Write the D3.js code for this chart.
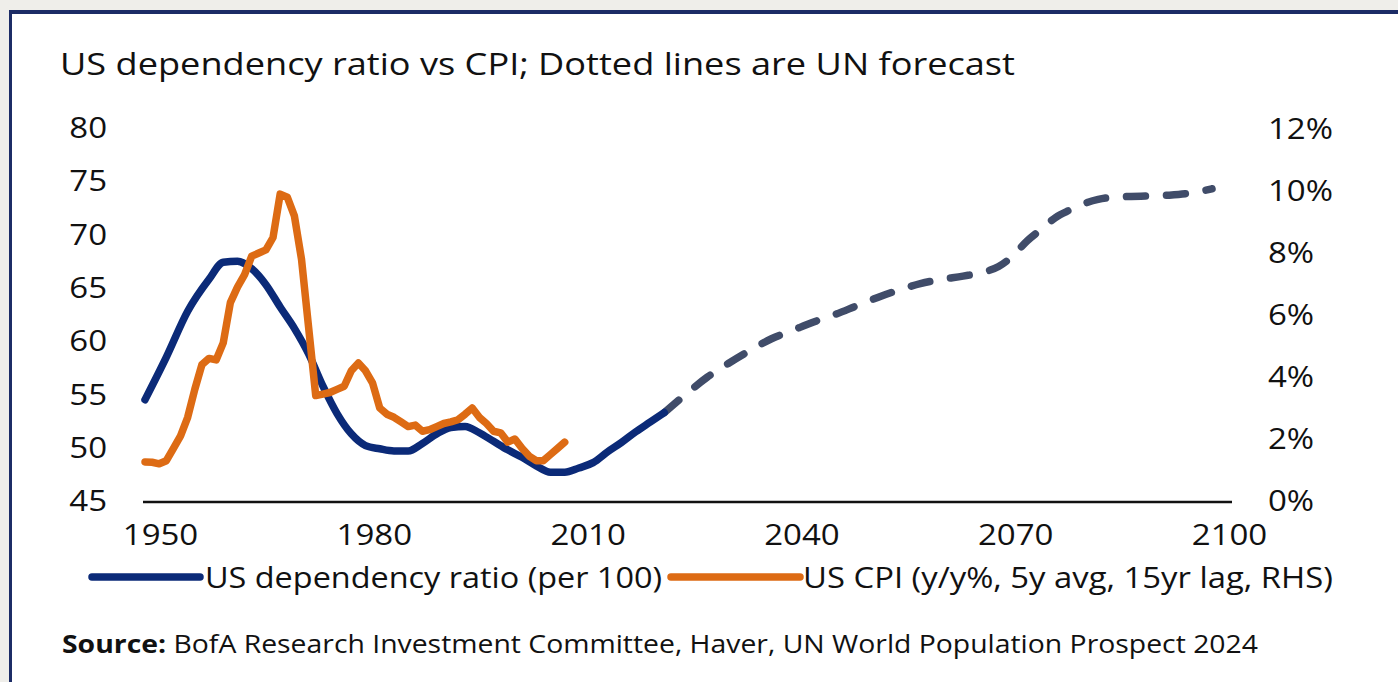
<!DOCTYPE html>
<html><head><meta charset="utf-8">
<script src="https://cdn.jsdelivr.net/npm/d3@7"></script>
<style>
html,body{margin:0;padding:0;background:#efeeea;}
svg{display:block;}
</style></head>
<body>
<svg id="c" width="1398" height="682"></svg>
<script>
// ---- data ----
const depYears = [1950,1953,1956,1959,1961,1963,1965,1967,1969,1971,1973,1975,1977,1979,1981,1983,1985,1987,1989,1991,1993,1995,1997,1999,2001,2003,2005,2007,2009,2011,2013,2015,2017,2019,2021,2023];
const depValues = [54.5,58.5,62.8,65.8,67.4,67.5,66.8,65.3,63.2,61.2,58.8,55.8,53.2,51.3,50.2,49.9,49.7,49.7,50.4,51.3,51.9,52.0,51.4,50.6,49.8,49.1,48.3,47.7,47.7,48.1,48.6,49.6,50.5,51.5,52.4,53.3];
const fcYears = [2023,2026,2029,2032,2035,2038,2041,2044,2047,2050,2053,2056,2059,2062,2065,2068,2070,2072,2074,2076,2078,2080,2082,2084,2086,2090,2094,2097,2100];
const fcValues = [53.3,55.0,56.6,57.9,59.1,60.2,61.0,61.8,62.5,63.3,64.1,64.8,65.4,65.8,66.1,66.5,67.0,68.0,69.4,70.5,71.6,72.3,72.9,73.3,73.5,73.6,73.7,73.9,74.3];
const cpiYears = [1950,1951,1952,1953,1954,1955,1956,1957,1958,1959,1960,1961,1962,1963,1964,1965,1966,1967,1968,1969,1970,1971,1972,1973,1974,1975,1976,1977,1978,1979,1980,1981,1982,1983,1984,1985,1986,1987,1988,1989,1990,1991,1992,1993,1994,1995,1996,1997,1998,1999,2000,2001,2002,2003,2004,2005,2006,2007,2008,2009];
const cpiValues = [1.26,1.25,1.2,1.3,1.7,2.1,2.7,3.6,4.4,4.6,4.55,5.1,6.4,6.9,7.3,7.9,8.0,8.1,8.5,9.9,9.8,9.2,7.8,5.6,3.4,3.45,3.5,3.6,3.7,4.2,4.45,4.2,3.8,3.0,2.8,2.7,2.55,2.4,2.45,2.25,2.3,2.4,2.5,2.55,2.62,2.8,3.0,2.7,2.5,2.25,2.2,1.9,2.0,1.7,1.45,1.3,1.3,1.5,1.7,1.9];
const xTicks = [1950,1980,2010,2040,2070,2100];
const leftTicks = [45,50,55,60,65,70,75,80];
const rightTicks = [0,2,4,6,8,10,12];
const title = "US dependency ratio vs CPI; Dotted lines are UN forecast";
const legendLabels = ["US dependency ratio (per 100)", "US CPI (y/y%, 5y avg, 15yr lag, RHS)"];
const sourceBold = "Source:";
const sourceText = " BofA Research Investment Committee, Haver, UN World Population Prospect 2024";

// ---- drawing ----
const FONT = "'Open Sans', 'Noto Sans', sans-serif";
const BLUE = "#0b2a78", ORANGE = "#dd6b14", DASH = "#404c69";
const svg = d3.select("#c");

// panel
svg.append("rect").attr("x",10).attr("y",12).attr("width",1388).attr("height",670).attr("fill","#ffffff");
svg.append("rect").attr("x",10).attr("y",10).attr("width",1388).attr("height",4).attr("fill","#1c2c66");
svg.append("rect").attr("x",9).attr("y",10).attr("width",3).attr("height",672).attr("fill","#1c2c66");

const x = d3.scaleLinear().domain([1950,2100]).range([145,1212]);
const xLab = d3.scaleLinear().domain([1950,2100]).range([160,1229]);
const yL = d3.scaleLinear().domain([45,80]).range([501,128]);
const yR = d3.scaleLinear().domain([0,12]).range([501,129]);

svg.append("text").attr("x",60).attr("y",75).attr("font-family",FONT).attr("font-size",31)
  .attr("fill","#111").attr("textLength",955).attr("lengthAdjust","spacingAndGlyphs").text(title);

const TICKFS = 30, SX = 1.1;
// left axis labels
const gL = svg.append("g").attr("transform","translate(107,0)")
  .call(d3.axisLeft(yL).tickValues(leftTicks).tickSize(0).tickPadding(0));
gL.select(".domain").remove();
gL.selectAll("text").attr("font-family",FONT).attr("font-size",TICKFS).attr("fill","#111")
  .attr("transform",`scale(${SX},1)`);

// right axis labels
const gR = svg.append("g").attr("transform","translate(1268,0)")
  .call(d3.axisRight(yR).tickValues(rightTicks).tickSize(0).tickPadding(0).tickFormat(d=>d+"%"));
gR.select(".domain").remove();
gR.selectAll("text").attr("font-family",FONT).attr("font-size",TICKFS).attr("fill","#111")
  .attr("transform",`scale(${SX},1)`);

// x axis
const gX = svg.append("g").attr("transform","translate(0,502)")
  .call(d3.axisBottom(xLab).tickValues(xTicks).tickSize(0).tickPadding(22).tickFormat(d3.format("d")));
gX.select(".domain").remove();
gX.selectAll("text").attr("font-family",FONT).attr("font-size",TICKFS).attr("fill","#111")
  .attr("transform",`scale(${SX},1)`);
svg.append("line").attr("x1",143).attr("x2",1232).attr("y1",502).attr("y2",502)
  .attr("stroke","#111").attr("stroke-width",2.5);

// lines
const dep = depYears.map((d,i)=>[d,depValues[i]]);
const fc = fcYears.map((d,i)=>[d,fcValues[i]]);
const cpi = cpiYears.map((d,i)=>[d,cpiValues[i]]);
const lineL = d3.line().x(d=>x(d[0])).y(d=>yL(d[1])).curve(d3.curveMonotoneX);
const lineR = d3.line().x(d=>x(d[0])).y(d=>yR(d[1])).curve(d3.curveLinear);

svg.append("path").attr("d",lineL(fc)).attr("fill","none").attr("stroke",DASH)
  .attr("stroke-width",7.5).attr("stroke-linecap","round").attr("stroke-dasharray","19 21");
svg.append("path").attr("d",lineL(dep)).attr("fill","none").attr("stroke",BLUE)
  .attr("stroke-width",7.5).attr("stroke-linejoin","round").attr("stroke-linecap","round");
svg.append("path").attr("d",lineR(cpi)).attr("fill","none").attr("stroke",ORANGE)
  .attr("stroke-width",7.5).attr("stroke-linejoin","round").attr("stroke-linecap","round");

// legend
const lg = [{c:BLUE,x1:92,x2:200,tx:205,w:457,t:legendLabels[0]},{c:ORANGE,x1:671,x2:800,tx:803,w:530,t:legendLabels[1]}];
lg.forEach(d=>{
  svg.append("line").attr("x1",d.x1).attr("x2",d.x2).attr("y1",577).attr("y2",577)
    .attr("stroke",d.c).attr("stroke-width",7.5).attr("stroke-linecap","round");
  svg.append("text").attr("x",d.tx).attr("y",588).attr("font-family",FONT).attr("font-size",29.5)
    .attr("textLength",d.w).attr("lengthAdjust","spacingAndGlyphs")
    .attr("fill","#111").text(d.t);
});

// source
const st = svg.append("text").attr("x",62).attr("y",653).attr("font-family",FONT).attr("font-size",25)
  .attr("textLength",1196).attr("lengthAdjust","spacingAndGlyphs").attr("fill","#111");
st.append("tspan").attr("font-weight","bold").text(sourceBold);
st.append("tspan").text(sourceText);
</script>
</body></html>
